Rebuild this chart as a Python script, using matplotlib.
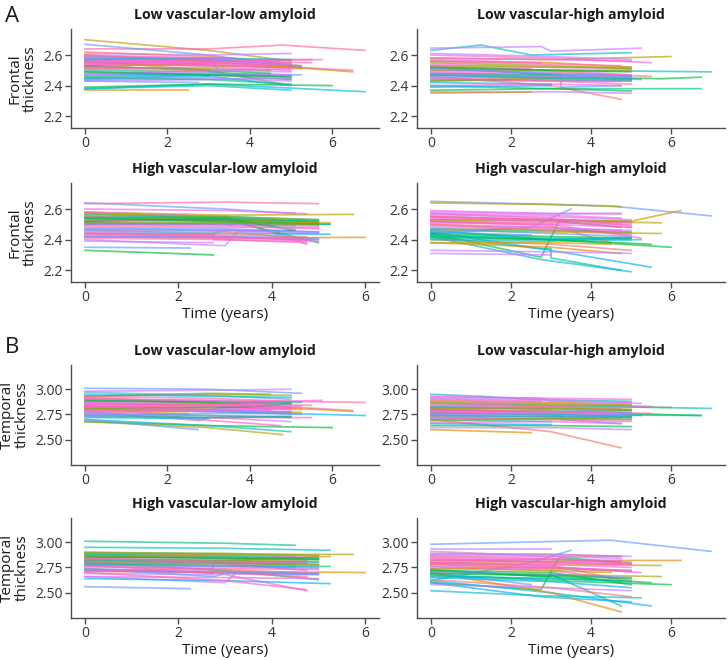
import matplotlib
matplotlib.use('Agg')
import matplotlib.pyplot as plt

plt.rcParams['font.family'] = ['Open Sans', 'DejaVu Sans']

# hue palette, one colour per subject id (id mod 12)
palette = ['#F8766D', '#DE8C00', '#B79F00', '#7CAE00', '#00BA38', '#00C08B',
           '#00BFC4', '#00B4F0', '#619CFF', '#C77CFF', '#F564E3', '#FF64B0']

groups = ['Low vascular-low amyloid', 'Low vascular-high amyloid',
          'High vascular-low amyloid', 'High vascular-high amyloid']

# ---- low vascular - low amyloid ----
lvla_id = [2, 11, 8, 7, 4, 1, 6, 2, 9, 10, 11, 0, 10, 1, 8, 4, 5, 9, 11,
           10, 3, 6, 7, 0, 11, 9, 10, 8, 4, 2, 11, 10, 7, 9, 11, 5, 10, 8,
           10, 11, 9, 8, 4, 6, 10, 0]
lvla_t = [[0, 3, 5], [0, 3, 4.8, 6.8], [0, 3, 5.25], [0, 3, 6.8], [0, 3, 6],
          [0, 2.5], [0, 3, 5], [0, 3, 4.8], [0, 3, 5], [0, 3, 5.75],
          [0, 3, 5.5], [0, 3, 5.25], [0, 3, 6.5], [0, 3, 6.5], [0, 3, 5.25],
          [0, 3, 5], [0, 3, 5], [0, 3, 5], [0, 2.75, 4.75], [0, 3, 5],
          [0, 3, 4.5], [0, 3, 5.25], [0, 2.75, 5], [0, 3, 4.5], [0, 3],
          [0, 3, 5], [0, 3, 3.25, 5], [0, 3, 5], [0, 3, 4.5], [0, 3, 5.25],
          [0, 2.75, 3, 5.5], [0, 3, 5], [0, 3], [0, 3, 5], [0, 3, 5],
          [0, 3, 5], [0, 2.75, 4.5], [0, 2.75],
          [0, 3, 5], [0, 3, 5.25], [0, 3, 5], [0, 3, 5], [0, 3, 5], [0, 3, 5],
          [0, 2.75, 4.75], [0, 3]]
lvla_fr = [[2.70, 2.63, 2.56], [2.64, 2.64, 2.665, 2.63], [2.67, 2.60, 2.52],
           [2.38, 2.41, 2.36], [2.39, 2.41, 2.40], [2.37, 2.37],
           [2.38, 2.40, 2.37], [2.56, 2.50, 2.41], [2.61, 2.60, 2.61],
           [2.55, 2.57, 2.57], [2.58, 2.56, 2.57], [2.53, 2.54, 2.51],
           [2.56, 2.55, 2.50], [2.60, 2.56, 2.49], [2.47, 2.48, 2.47],
           [2.46, 2.47, 2.44], [2.50, 2.49, 2.45], [2.44, 2.45, 2.43],
           [2.54, 2.53, 2.52], [2.57, 2.55, 2.53], [2.52, 2.51, 2.50],
           [2.59, 2.57, 2.53], [2.48, 2.47, 2.40], [2.62, 2.59, 2.56],
           [2.55, 2.54], [2.49, 2.48, 2.47], [2.53, 2.58, 2.50, 2.51],
           [2.58, 2.57, 2.54], [2.53, 2.50, 2.48], [2.55, 2.53, 2.52],
           [2.57, 2.55, 2.56, 2.55], [2.51, 2.52, 2.50], [2.45, 2.46],
           [2.43, 2.44, 2.45], [2.60, 2.58, 2.55], [2.45, 2.44, 2.41],
           [2.56, 2.54, 2.52], [2.43, 2.42],
           [2.55, 2.56, 2.54], [2.52, 2.55, 2.53], [2.47, 2.50, 2.49],
           [2.44, 2.47, 2.46], [2.49, 2.47, 2.46], [2.57, 2.58, 2.57],
           [2.59, 2.58, 2.56], [2.51, 2.50]]
lvla_tp = [[2.93, 2.95, 2.94], [2.90, 2.89, 2.88, 2.87], [3.01, 3.00, 2.96],
           [2.81, 2.78, 2.74], [2.68, 2.64, 2.62], [2.78, 2.76],
           [2.70, 2.64, 2.58], [2.68, 2.62, 2.55], [2.98, 2.99, 3.00],
           [2.85, 2.86, 2.89], [2.88, 2.87, 2.84], [2.84, 2.83, 2.80],
           [2.90, 2.87, 2.79], [2.92, 2.86, 2.78], [2.79, 2.78, 2.75],
           [2.76, 2.74, 2.72], [2.82, 2.80, 2.86], [2.73, 2.72, 2.68],
           [2.84, 2.70, 2.64], [2.87, 2.85, 2.83], [2.93, 2.96, 2.95],
           [2.88, 2.88, 2.87], [2.80, 2.79, 2.77], [2.86, 2.84, 2.80],
           [2.83, 2.82], [2.80, 2.79, 2.77], [2.85, 2.78, 2.82, 2.80],
           [2.97, 2.94, 2.90], [2.81, 2.82, 2.83], [2.81, 2.80, 2.77],
           [2.78, 2.69, 2.72, 2.72], [2.79, 2.80, 2.81], [2.72, 2.71],
           [2.75, 2.74, 2.73], [2.93, 2.91, 2.88], [2.74, 2.72, 2.73],
           [2.83, 2.80, 2.79], [2.70, 2.60],
           [2.86, 2.84, 2.82], [2.82, 2.85, 2.83], [2.77, 2.79, 2.78],
           [2.74, 2.76, 2.76], [2.89, 2.87, 2.86], [2.95, 2.93, 2.92],
           [2.91, 2.89, 2.86], [2.80, 2.78]]

# ---- low vascular - high amyloid ----
lvha_id = [6, 9, 2, 6, 4, 5, 0, 8, 9, 10, 10, 11, 1, 2, 3, 4, 7, 8, 11, 10,
           9, 6, 0, 11, 1, 5, 10, 2, 8, 9, 11, 4, 7, 10,
           10, 11, 9, 8, 3, 10, 6, 2]
lvha_t = [[0, 1.25, 2.5, 5], [0, 2.75, 3, 5.25], [0, 3, 6], [0, 3, 7],
          [0, 3, 5.75, 6.75], [0, 3, 6.75], [0, 3, 4.75], [0, 3.25, 3.25, 4.75],
          [0, 3, 5], [0, 3, 5.5], [0, 3, 5], [0, 3], [0, 3, 5], [0, 3, 5],
          [0, 3, 5], [0, 3, 5], [0, 3, 5.25], [0, 3, 5], [0, 2.5], [0, 3, 5],
          [0, 3, 5], [0, 3], [0, 3, 5.5], [0, 2.75, 4.75], [0, 2.5], [0, 3, 5],
          [0, 3, 4.75], [0, 3, 5], [0, 3, 5], [0, 3, 5], [0, 3, 5], [0, 3, 5],
          [0, 3], [0, 2.75],
          [0, 3, 5], [0, 3, 4.75], [0, 3, 5], [0, 3, 5], [0, 3, 5], [0, 2.75],
          [0, 3, 5], [0, 3, 5]]
lvha_fr = [[2.63, 2.665, 2.60, 2.615], [2.645, 2.655, 2.625, 2.645],
           [2.58, 2.57, 2.59], [2.50, 2.50, 2.49], [2.47, 2.46, 2.445, 2.455],
           [2.40, 2.38, 2.38], [2.46, 2.40, 2.31], [2.52, 2.47, 2.39, 2.40],
           [2.35, 2.36, 2.35], [2.60, 2.58, 2.55], [2.54, 2.52, 2.51],
           [2.48, 2.47], [2.56, 2.55, 2.52], [2.44, 2.43, 2.43],
           [2.55, 2.53, 2.51], [2.37, 2.38, 2.365], [2.52, 2.47, 2.44],
           [2.46, 2.45, 2.45], [2.52, 2.51], [2.58, 2.57, 2.56],
           [2.53, 2.50, 2.47], [2.42, 2.41], [2.50, 2.49, 2.46],
           [2.45, 2.44, 2.43], [2.36, 2.36], [2.48, 2.47, 2.46],
           [2.40, 2.41, 2.40], [2.51, 2.50, 2.50], [2.43, 2.44, 2.43],
           [2.61, 2.59, 2.57], [2.44, 2.43, 2.41], [2.52, 2.50, 2.49],
           [2.39, 2.40], [2.47, 2.46],
           [2.49, 2.48, 2.47], [2.56, 2.54, 2.53], [2.45, 2.46, 2.46],
           [2.51, 2.48, 2.46], [2.43, 2.45, 2.44], [2.57, 2.55],
           [2.47, 2.45, 2.44], [2.53, 2.52, 2.52]]
lvha_tp = [[2.95, 2.93, 2.90, 2.88], [2.92, 2.91, 2.88, 2.86],
           [2.84, 2.83, 2.82], [2.86, 2.84, 2.81], [2.80, 2.78, 2.75, 2.74],
           [2.76, 2.75, 2.74], [2.70, 2.58, 2.42], [2.78, 2.74, 2.70, 2.66],
           [2.62, 2.62, 2.60], [2.88, 2.86, 2.83], [2.84, 2.82, 2.80],
           [2.82, 2.80], [2.89, 2.87, 2.85], [2.72, 2.71, 2.70],
           [2.87, 2.85, 2.84], [2.64, 2.64, 2.63], [2.80, 2.76, 2.74],
           [2.74, 2.73, 2.73], [2.77, 2.76], [2.93, 2.91, 2.90],
           [2.81, 2.77, 2.73], [2.70, 2.68], [2.80, 2.78, 2.76],
           [2.73, 2.73, 2.72], [2.60, 2.57], [2.76, 2.75, 2.73],
           [2.67, 2.68, 2.66], [2.79, 2.78, 2.79], [2.71, 2.71, 2.70],
           [2.91, 2.89, 2.87], [2.72, 2.70, 2.68], [2.82, 2.81, 2.79],
           [2.66, 2.65], [2.78, 2.76],
           [2.79, 2.78, 2.76], [2.86, 2.83, 2.81], [2.75, 2.76, 2.75],
           [2.83, 2.80, 2.77], [2.69, 2.71, 2.72], [2.90, 2.88],
           [2.74, 2.73, 2.72], [2.81, 2.81, 2.80]]

# ---- high vascular - low amyloid ----
hvla_id = [8, 11, 2, 1, 4, 8, 9, 10, 4, 5, 6, 7, 10, 11, 2, 3, 0, 9, 10, 8,
           4, 5, 11, 1, 10, 7, 9, 6, 11, 3, 0, 10, 8, 4,
           10, 11, 9, 8, 4, 5, 11, 3]
hvla_t = [[0, 3, 4.5], [0, 3, 5], [0, 3, 5.75], [0, 3, 6], [0, 2.75],
          [0, 2.25], [0, 3, 3.25, 5], [0, 3, 4.75], [0, 3, 5], [0, 3, 4.5],
          [0, 3, 5.25], [0, 3, 5.25], [0, 3, 4.75], [0, 3, 4.75], [0, 3, 5.25],
          [0, 3, 5], [0, 3, 5], [0, 3, 5], [0, 2.75, 2.75, 4.75], [0, 3, 5],
          [0, 3, 5], [0, 3, 5.25], [0, 3, 4.75], [0, 3, 5], [0, 3, 5],
          [0, 3, 4.5], [0, 2.75], [0, 3, 5], [0, 3, 5], [0, 3, 5],
          [0, 3, 4.75], [0, 3, 5], [0, 2.75, 3, 5], [0, 3, 4.5],
          [0, 3, 5], [0, 3, 4.75], [0, 3, 5], [0, 3, 5], [0, 3, 5], [0, 3, 5],
          [0, 2.75, 4.75], [0, 3, 5]]
hvla_fr = [[2.64, 2.60, 2.57], [2.635, 2.645, 2.635], [2.58, 2.56, 2.565],
           [2.42, 2.41, 2.415], [2.33, 2.30], [2.35, 2.345],
           [2.40, 2.36, 2.45, 2.44], [2.58, 2.55, 2.37], [2.55, 2.53, 2.38],
           [2.50, 2.50, 2.49], [2.51, 2.50, 2.50], [2.44, 2.44, 2.435],
           [2.60, 2.59, 2.57], [2.55, 2.54, 2.52], [2.53, 2.52, 2.51],
           [2.54, 2.53, 2.51], [2.46, 2.45, 2.40], [2.43, 2.42, 2.39],
           [2.45, 2.43, 2.40, 2.39], [2.48, 2.47, 2.45], [2.52, 2.53, 2.52],
           [2.50, 2.51, 2.50], [2.41, 2.40, 2.38], [2.57, 2.54, 2.51],
           [2.42, 2.41, 2.40], [2.47, 2.46, 2.46], [2.39, 2.38],
           [2.54, 2.55, 2.53], [2.49, 2.48, 2.48], [2.57, 2.55, 2.53],
           [2.44, 2.43, 2.42], [2.51, 2.50, 2.49], [2.46, 2.44, 2.46, 2.45],
           [2.52, 2.54, 2.46],
           [2.50, 2.49, 2.47], [2.53, 2.52, 2.50], [2.47, 2.46, 2.45],
           [2.42, 2.42, 2.41], [2.54, 2.52, 2.50], [2.56, 2.54, 2.52],
           [2.44, 2.42, 2.40], [2.51, 2.51, 2.50]]
hvla_tp = [[2.90, 2.88, 2.86], [2.88, 2.87, 2.86], [2.89, 2.88, 2.88],
           [2.72, 2.71, 2.70], [2.73, 2.70], [2.56, 2.54],
           [2.66, 2.60, 2.70, 2.68], [2.78, 2.68, 2.52], [2.80, 2.72, 2.63],
           [3.01, 2.99, 2.97], [2.95, 2.94, 2.92], [2.64, 2.62, 2.59],
           [2.86, 2.84, 2.82], [2.84, 2.82, 2.80], [2.82, 2.82, 2.86],
           [2.83, 2.82, 2.81], [2.76, 2.73, 2.69], [2.74, 2.71, 2.69],
           [2.72, 2.74, 2.80, 2.72], [2.79, 2.77, 2.75], [2.85, 2.85, 2.84],
           [2.78, 2.77, 2.76], [2.70, 2.62, 2.53], [2.87, 2.85, 2.83],
           [2.66, 2.65, 2.64], [2.78, 2.76, 2.75], [2.69, 2.68],
           [2.82, 2.81, 2.80], [2.76, 2.74, 2.73], [2.90, 2.89, 2.87],
           [2.71, 2.70, 2.69], [2.80, 2.79, 2.77], [2.74, 2.66, 2.69, 2.68],
           [2.81, 2.80, 2.78],
           [2.81, 2.80, 2.78], [2.84, 2.81, 2.79], [2.77, 2.76, 2.74],
           [2.72, 2.70, 2.69], [2.86, 2.84, 2.83], [2.88, 2.86, 2.84],
           [2.73, 2.70, 2.66], [2.79, 2.79, 2.78]]

# ---- high vascular - high amyloid ----
hvha_id = [8, 2, 1, 2, 2, 4, 8, 4, 5, 7, 7, 1, 0, 9, 9, 10, 11, 10, 11, 4,
           3, 6, 8, 10, 9, 11, 0, 5, 10, 2, 7, 11, 9, 4,
           10, 11, 9, 8, 4, 6, 10, 0]
hvha_t = [[0, 4.5, 7], [0, 3, 4.75], [0, 3, 5, 6.25], [0, 3, 5.75],
          [0, 3, 5.75], [0, 3, 6], [0, 2.5, 3.5], [0, 2.75, 3.2, 4.75],
          [0, 2.75, 3, 3, 4.75], [0, 2.75, 5], [0, 3, 5.5], [0, 3, 4.75],
          [0, 3, 5], [0, 3], [0, 3, 5], [0, 3, 4.75], [0, 3, 5], [0, 3, 5.25],
          [0, 3, 5], [0, 3, 5], [0, 3, 5], [0, 2.75, 5.25], [0, 2.5], [0, 3, 5],
          [0, 3, 4.75], [0, 3, 4.75], [0, 3, 4.5], [0, 3, 4.75], [0, 3, 5],
          [0, 3, 4.5], [0, 3, 5], [0, 3, 5], [0, 3, 5], [0, 3, 5.5],
          [0, 3, 5], [0, 3, 4.75], [0, 3, 5], [0, 3, 5], [0, 3, 5], [0, 3, 5],
          [0, 3, 4.75], [0, 3, 5]]
hvha_fr = [[2.65, 2.62, 2.555], [2.64, 2.63, 2.615], [2.55, 2.53, 2.52, 2.59],
           [2.53, 2.52, 2.51], [2.46, 2.45, 2.44], [2.42, 2.40, 2.35],
           [2.44, 2.48, 2.60], [2.44, 2.285, 2.52, 2.48],
           [2.42, 2.34, 2.34, 2.28, 2.20], [2.42, 2.27, 2.19],
           [2.45, 2.33, 2.22], [2.38, 2.35, 2.31], [2.40, 2.37, 2.33],
           [2.31, 2.30], [2.33, 2.32, 2.31], [2.59, 2.57, 2.57],
           [2.57, 2.54, 2.49], [2.52, 2.50, 2.41], [2.50, 2.48, 2.43],
           [2.47, 2.46, 2.45], [2.53, 2.53, 2.52], [2.40, 2.39, 2.40],
           [2.45, 2.43], [2.55, 2.53, 2.51], [2.58, 2.57, 2.57],
           [2.48, 2.47, 2.46], [2.52, 2.49, 2.38], [2.41, 2.40, 2.41],
           [2.54, 2.52, 2.48], [2.38, 2.38, 2.37], [2.46, 2.40, 2.41],
           [2.52, 2.51, 2.50], [2.56, 2.55, 2.53], [2.43, 2.40, 2.37],
           [2.51, 2.50, 2.48], [2.55, 2.53, 2.51], [2.49, 2.48, 2.46],
           [2.47, 2.44, 2.42], [2.44, 2.42, 2.41], [2.43, 2.41, 2.40],
           [2.57, 2.56, 2.54], [2.50, 2.46, 2.44]]
hvha_tp = [[2.98, 3.02, 2.91], [2.89, 2.88, 2.86], [2.80, 2.81, 2.82, 2.82],
           [2.79, 2.78, 2.77], [2.70, 2.68, 2.66], [2.68, 2.62, 2.58],
           [2.62, 2.80, 2.92], [2.60, 2.53, 2.85, 2.80],
           [2.73, 2.66, 2.66, 2.68, 2.37], [2.60, 2.46, 2.41],
           [2.62, 2.50, 2.37], [2.70, 2.50, 2.31], [2.63, 2.55, 2.46],
           [2.93, 2.93], [2.58, 2.55, 2.52], [2.87, 2.86, 2.86],
           [2.84, 2.80, 2.78], [2.79, 2.76, 2.70], [2.76, 2.72, 2.62],
           [2.72, 2.70, 2.58], [2.82, 2.83, 2.80], [2.52, 2.47, 2.45],
           [2.70, 2.58], [2.83, 2.81, 2.79], [2.91, 2.86, 2.84],
           [2.74, 2.75, 2.72], [2.80, 2.77, 2.65], [2.66, 2.64, 2.62],
           [2.78, 2.75, 2.72], [2.74, 2.72, 2.70], [2.65, 2.61, 2.55],
           [2.86, 2.84, 2.79], [2.88, 2.88, 2.86], [2.72, 2.66, 2.60],
           [2.80, 2.78, 2.75], [2.82, 2.80, 2.78], [2.76, 2.74, 2.72],
           [2.71, 2.68, 2.65], [2.69, 2.67, 2.64], [2.67, 2.64, 2.61],
           [2.85, 2.83, 2.82], [2.78, 2.74, 2.71]]

ids = [lvla_id, lvha_id, hvla_id, hvha_id]
times = [lvla_t, lvha_t, hvla_t, hvha_t]
frontal = [lvla_fr, lvha_fr, hvla_fr, hvha_fr]
temporal = [lvla_tp, lvha_tp, hvla_tp, hvha_tp]

W, H = 728, 660
fig = plt.figure(figsize=(W / 100, H / 100), dpi=100)

col_left = [71, 417]
ax_w = 308
row_top = [29, 183, 365, 518]
ax_h = [99, 99, 100, 100]

gray = '#4d4d4d'
txt = '#333333'

for block in range(2):
    values = frontal if block == 0 else temporal
    ylab = 'Frontal\nthickness' if block == 0 else 'Temporal\nthickness'
    for g in range(4):
        r = block * 2 + g // 2
        c = g % 2
        ax = fig.add_axes([col_left[c] / W, 1 - (row_top[r] + ax_h[r]) / H,
                           ax_w / W, ax_h[r] / H])
        for sid, t, v in zip(ids[g], times[g], values[g]):
            ax.plot(t, v, color=palette[sid % 12], lw=1.25, alpha=0.65,
                    solid_joinstyle='round')
        ax.margins(x=0.05)
        if block == 0:
            ax.set_ylim(2.123, 2.77)
            ax.set_yticks([2.2, 2.4, 2.6])
        else:
            ax.set_ylim(2.25, 3.24)
            ax.set_yticks([2.5, 2.75, 3.0])
            ax.set_yticklabels(['2.50', '2.75', '3.00'])
        ax.set_xticks([0, 2, 4, 6])
        for s in ['top', 'right']:
            ax.spines[s].set_visible(False)
        for s in ['left', 'bottom']:
            ax.spines[s].set_color(gray)
            ax.spines[s].set_linewidth(1.0)
        ax.tick_params(colors=gray, labelcolor=txt, labelsize=10, length=4,
                       width=1.0, pad=2)
        ax.set_title(groups[g], fontsize=10.2, fontweight='bold',
                     color='#1a1a1a', pad=7)
        if c == 0:
            ax.set_ylabel(ylab, fontsize=11, color='#1a1a1a', linespacing=1.0,
                          labelpad=4)
        if g >= 2:
            ax.set_xlabel('Time (years)', fontsize=11, color='#1a1a1a',
                          labelpad=1)

fig.text(5 / W, 1 - 16 / H, 'A', fontsize=16, color='#1a1a1a', va='center')
fig.text(5 / W, 1 - 348 / H, 'B', fontsize=16, color='#1a1a1a', va='center')

fig.savefig('out.png', dpi=100, facecolor='white')
